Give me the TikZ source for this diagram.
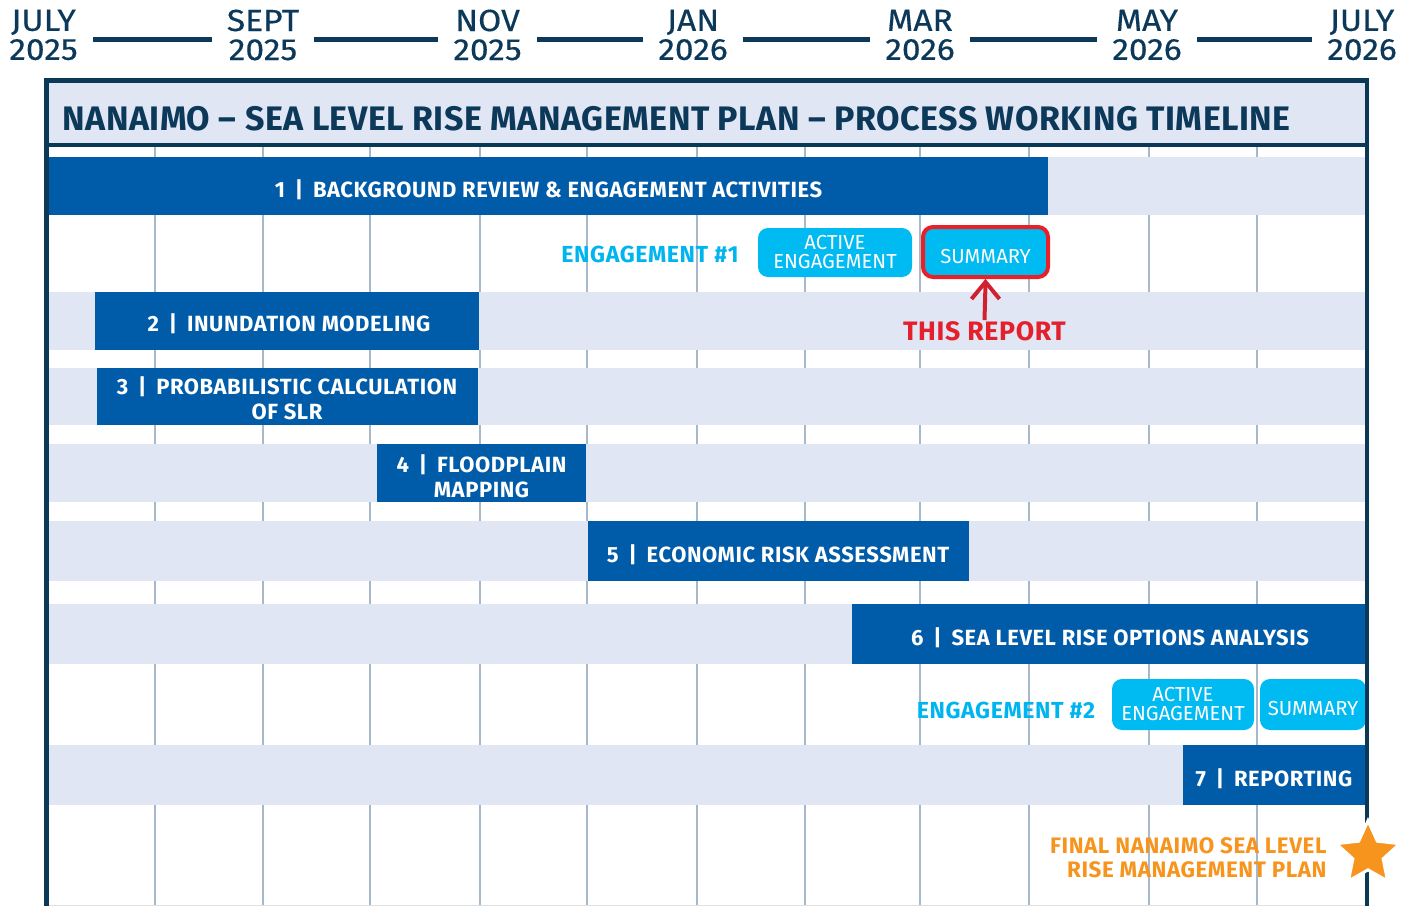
\documentclass[tikz,border=0pt]{standalone}
\usepackage{fontspec}
\setmainfont{Fira Sans}
\newfontfamily\titlefont[LetterSpace=1.4]{Fira Sans}
\newfontfamily\monthfont[FakeStretch=1.1,FakeBold=0.4]{Fira Sans}
\newfontfamily\taskfont[LetterSpace=2.5]{Fira Sans}
\newcommand{\tasksep}{\hspace{0.45em}|\hspace{0.45em}}
\usepackage{tikz}
\usetikzlibrary{calc,shapes.geometric}

\begin{document}
\begin{tikzpicture}[x=0.75pt,y=0.75pt,yscale=-1,xscale=1,
  monthlabel/.style={align=center, inner sep=0.75pt, text={rgb, 255:red, 12; green, 57; blue, 89 }, font=\monthfont\fontsize{22.9}{21.75}\selectfont},
  monthline/.style={color={rgb, 255:red, 12; green, 57; blue, 89 }, line width=3.5pt, shorten <=10.5pt, shorten >=10.5pt},
  titletext/.style={inner sep=0.75pt, text={rgb, 255:red, 12; green, 57; blue, 89 }, font=\titlefont\fontsize{25.5}{28}\selectfont\bfseries},
  frameline/.style={color={rgb, 255:red, 10; green, 56; blue, 87 }, line width=3.4pt},
  gridline/.style={color={rgb, 255:red, 167; green, 185; blue, 200 }, line width=1.1pt},
  band/.style={fill={rgb, 255:red, 224; green, 230; blue, 244 }},
  taskbar/.style={fill={rgb, 255:red, 0; green, 91; blue, 168 }},
  tasklabel/.style={align=center, inner sep=0.75pt, text=white, font=\taskfont\fontsize{16.5}{18.4}\selectfont\bfseries},
  englabel/.style={inner sep=0.75pt, text={rgb, 255:red, 0; green, 181; blue, 239 }, font=\taskfont\fontsize{17.4}{20}\selectfont\bfseries},
  engbox/.style={align=center, inner sep=0pt, fill={rgb, 255:red, 0; green, 186; blue, 242 }, rounded corners=7.5pt, text=white, font=\fontsize{15.2}{14.25}\selectfont},
  reportarrow/.style={color={rgb, 255:red, 209; green, 32; blue, 47 }, line width=3pt},
  thisreport/.style={inner sep=0.75pt, text={rgb, 255:red, 228; green, 32; blue, 44 }, font=\taskfont\fontsize{20}{24}\selectfont\bfseries},
  finallabel/.style={align=right, inner sep=0.75pt, text={rgb, 255:red, 247; green, 148; blue, 29 }, font=\taskfont\fontsize{16.8}{18}\selectfont\bfseries}
]
\useasboundingbox (0,0) rectangle (1418,906);

% Month Nodes
\node[monthlabel] (jul25) at (43.5,35) {JULY\\2025};
\node[monthlabel] (sep25) at (263,35) {SEPT\\2025};
\node[monthlabel] (nov25) at (487.5,35) {NOV\\2025};
\node[monthlabel] (jan26) at (693,35) {JAN\\2026};
\node[monthlabel] (mar26) at (920,35) {MAR\\2026};
\node[monthlabel] (may26) at (1147,35) {MAY\\2026};
\node[monthlabel] (jul26) at (1362,35) {JULY\\2026};

%Straight Lines between months
\draw[monthline] ($(jul25.east)+(0,4.5)$) -- ($(sep25.west)+(0,4.5)$);
\draw[monthline] ($(sep25.east)+(0,4.5)$) -- ($(nov25.west)+(0,4.5)$);
\draw[monthline] ($(nov25.east)+(0,4.5)$) -- ($(jan26.west)+(0,4.5)$);
\draw[monthline] ($(jan26.east)+(0,4.5)$) -- ($(mar26.west)+(0,4.5)$);
\draw[monthline] ($(mar26.east)+(0,4.5)$) -- ($(may26.west)+(0,4.5)$);
\draw[monthline] ($(may26.east)+(0,4.5)$) -- ($(jul26.west)+(0,4.5)$);

%Shape: Rectangle (header)
\fill[band] (49,83) rectangle (1365,143);
% Text Node
\node[titletext, anchor=west] (title) at (61.25,118.5) {NANAIMO – SEA LEVEL RISE MANAGEMENT PLAN – PROCESS WORKING TIMELINE};

%Straight Lines (month grid)
\draw[gridline] (155,147) -- (155,906) (263,147) -- (263,906) (370,147) -- (370,906) (480,147) -- (480,906)
  (587,147) -- (587,906) (697,147) -- (697,906) (805,147) -- (805,906) (920,147) -- (920,906)
  (1029,147) -- (1029,906) (1149,147) -- (1149,906) (1257,147) -- (1257,906);
\draw[color={rgb, 255:red, 221; green, 224; blue, 228 }, line width=0.75pt] (49,905.5) -- (1366,905.5);

%Shape: Rectangle (task 1)
\fill[band] (1048,157) rectangle (1366,214.5);
\fill[taskbar] (49,157) rectangle (1048,214.5);
% Text Node
\node[tasklabel] (task1) at (548.5,190) {1\tasksep BACKGROUND REVIEW \& ENGAGEMENT ACTIVITIES};

%Shape: Rectangle (task 2)
\fill[band] (49,292) rectangle (1366,349.5);
\fill[taskbar] (95,292) rectangle (478.5,349.5);
% Text Node
\node[tasklabel] (task2) at (289,323.5) {2\tasksep INUNDATION MODELING};

%Shape: Rectangle (task 3)
\fill[band] (49,367.5) rectangle (1366,425);
\fill[taskbar] (97,367.5) rectangle (478,425);
% Text Node
\node[tasklabel] (task3) at (287,398.5) {3\tasksep PROBABILISTIC CALCULATION\\OF SLR};

%Shape: Rectangle (task 4)
\fill[band] (49,444) rectangle (1366,501.5);
\fill[taskbar] (377,444) rectangle (585.5,501.5);
% Text Node
\node[tasklabel] (task4) at (481.5,476.5) {4\tasksep FLOODPLAIN\\MAPPING};

%Shape: Rectangle (task 5)
\fill[band] (49,521) rectangle (1366,580.5);
\fill[taskbar] (588,521) rectangle (968.5,580.5);
% Text Node
\node[tasklabel] (task5) at (778,555) {5\tasksep ECONOMIC RISK ASSESSMENT};

%Shape: Rectangle (task 6)
\fill[band] (49,604) rectangle (1366,663.5);
\fill[taskbar] (852,604) rectangle (1368,663.5);
% Text Node
\node[tasklabel] (task6) at (1110,638) {6\tasksep SEA LEVEL RISE OPTIONS ANALYSIS};

%Shape: Rectangle (task 7)
\fill[band] (49,745) rectangle (1366,804.5);
\fill[taskbar] (1183,745) rectangle (1366,804.5);
% Text Node
\node[tasklabel] (task7) at (1274,778.5) {7\tasksep REPORTING};

% Engagement #1
\node[englabel] (eng1) at (650,254.5) {ENGAGEMENT \#1};
\node[engbox, minimum width=115.5pt, minimum height=36.75pt] (active1) at (835,252.5) {ACTIVE\\ENGAGEMENT};
\node[engbox, draw={rgb, 255:red, 232; green, 32; blue, 42 }, line width=3pt, minimum width=93.75pt, text height=27pt, text depth=10.5pt] (summary1) at (985.5,252) {SUMMARY};

% Text Node
\node[thisreport] (report) at (984.5,331) {THIS REPORT};
%Straight Lines [arrow]
\draw[reportarrow] (report.north) -- ($(summary1.south)+(0,5)$);
\draw[reportarrow, shift={($(summary1.south)+(0,3)$)}, rotate=90] (17,-14) -- (0,0) -- (17,14);

% Engagement #2
\node[englabel] (eng2) at (1006,710) {ENGAGEMENT \#2};
\node[engbox, minimum width=106.5pt, minimum height=38.25pt] (active2) at (1183,704.5) {ACTIVE\\ENGAGEMENT};
\node[engbox, minimum width=79.5pt, text height=27pt, text depth=11.25pt] (summary2) at (1313,704.5) {SUMMARY};

% Text Node
\node[finallabel, anchor=east] (final) at (1327.75,858) {FINAL NANAIMO SEA LEVEL\\RISE MANAGEMENT PLAN};

%Shape: Frame
\draw[frameline] (46.5,906) -- (46.5,80.5) -- (1367,80.5) -- (1367,906);
\draw[frameline, line width=3pt] (46.5,145) -- (1367,145);

%Shape: Star
\node[star, star points=5, star point ratio=2.1, inner sep=0pt, minimum size=50pt, fill={rgb, 255:red, 247; green, 148; blue, 29 }, draw=white, line width=2.25pt] (finalstar) at (1368,854) {};

\end{tikzpicture}
\end{document}
